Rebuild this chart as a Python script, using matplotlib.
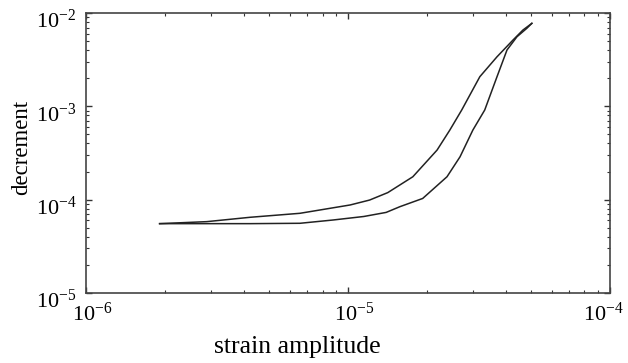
import numpy as np
import matplotlib
matplotlib.use("Agg")
import matplotlib.pyplot as plt
import matplotlib.transforms as mtransforms
from matplotlib.ticker import LogLocator, NullFormatter

# decrement vs strain amplitude, loop
strain_up = [1.91e-6, 2.89e-6, 4.23e-6, 6.56e-6, 1.02e-5, 1.21e-5, 1.42e-5, 1.77e-5,
             2.19e-5, 2.45e-5, 2.72e-5, 3.19e-5, 3.71e-5, 4.27e-5, 4.66e-5, 5.04e-5]
decr_up = [5.53e-5, 5.81e-5, 6.47e-5, 7.14e-5, 8.77e-5, 9.9e-5, 1.19e-4, 1.76e-4,
           3.40e-4, 5.57e-4, 9.14e-4, 2.08e-3, 3.40e-3, 5.14e-3, 6.58e-3, 7.76e-3]
strain_low = [1.91e-6, 2.49e-6, 4.23e-6, 6.56e-6, 8.77e-6, 1.15e-5, 1.40e-5,
              1.58e-5, 1.93e-5, 2.39e-5, 2.68e-5, 3.00e-5, 3.33e-5, 3.71e-5,
              4.05e-5, 4.42e-5, 4.82e-5, 5.04e-5]
decr_low = [5.53e-5, 5.53e-5, 5.53e-5, 5.58e-5, 6.05e-5, 6.6e-5, 7.3e-5,
            8.41e-5, 1.03e-4, 1.76e-4, 2.88e-4, 5.57e-4, 9.14e-4, 2.08e-3,
            4.02e-3, 5.57e-3, 6.86e-3, 7.76e-3]
xticks = [1e-6, 1e-5, 1e-4]
yticks = [1e-5, 1e-4, 1e-3, 1e-2]

plt.rcParams['font.family'] = ['Liberation Serif', 'DejaVu Serif']
plt.rcParams['mathtext.fontset'] = 'custom'
plt.rcParams['mathtext.rm'] = 'Liberation Serif'
plt.rcParams['mathtext.it'] = 'Liberation Serif:italic'

fig = plt.figure(figsize=(6.28, 3.63), dpi=100)
ax = fig.add_axes([0.137, 0.193, 0.834, 0.771])

ax.plot(strain_up, decr_up, color='#222222', lw=1.1)
ax.plot(strain_low, decr_low, color='#222222', lw=1.1)

ax.set_xscale('log')
ax.set_yscale('log')
ax.set_xticks(xticks)
ax.set_yticks(yticks)
ax.xaxis.set_minor_locator(LogLocator(base=10, subs=np.arange(2, 10), numticks=10))
ax.yaxis.set_minor_locator(LogLocator(base=10, subs=np.arange(2, 10), numticks=10))
ax.xaxis.set_minor_formatter(NullFormatter())
ax.yaxis.set_minor_formatter(NullFormatter())
ax.set_xlim(1e-6, 1e-4)
ax.set_ylim(1e-5, 1e-2)

ax.tick_params(which='both', direction='in', top=True, right=True, color='#333333')
ax.tick_params(which='major', length=4, width=1, labelsize=16, pad=7)
ax.tick_params(which='minor', length=2.5, width=0.8)
for s in ax.spines.values():
    s.set_color('#444444')
    s.set_linewidth(1.2)

# nudge tick labels like the original (x right, y down)
fig.canvas.draw()
xl = ax.get_xticklabels()
for i, lab in enumerate(xl):
    dx = 6 if i < len(xl) - 1 else -6
    lab.set_transform(lab.get_transform() + mtransforms.ScaledTranslation(dx / 100, 0, fig.dpi_scale_trans))
for lab in ax.get_yticklabels():
    lab.set_transform(lab.get_transform() + mtransforms.ScaledTranslation(0, -6 / 100, fig.dpi_scale_trans))

ax.set_xlabel('strain amplitude', fontsize=18.5)
ax.set_ylabel('decrement', fontsize=16.5)
ax.xaxis.set_label_coords(0.404, -0.155)
ax.yaxis.set_label_coords(-0.103, 0.52)

fig.savefig('out.png', dpi=100)
